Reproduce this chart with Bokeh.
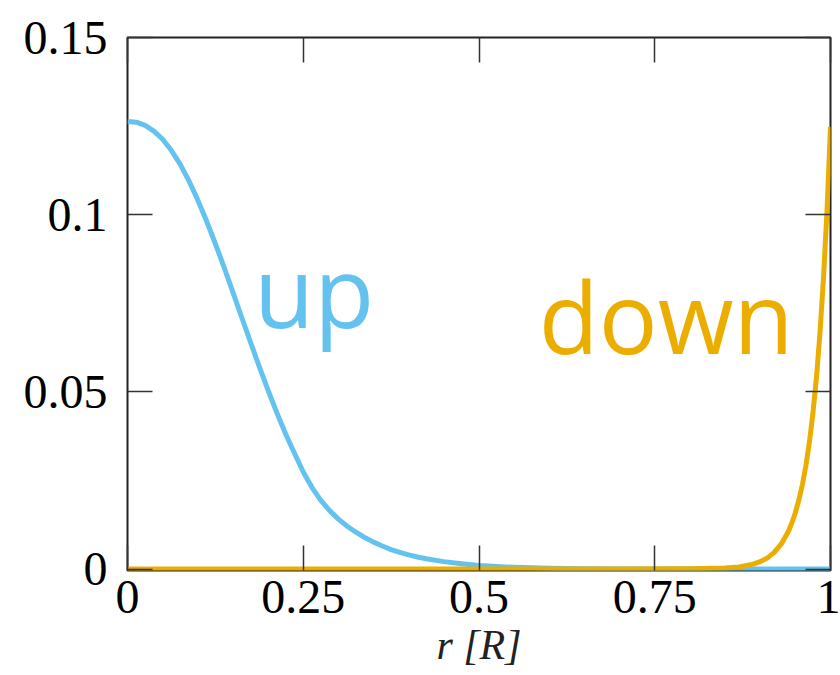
from bokeh.plotting import figure
from bokeh.models import Range1d, LinearAxis, Label, FixedTicker, CustomLabelingPolicy
from bokeh.embed import file_html
from bokeh.resources import INLINE

# ---- data ----
r_up = [0.0, 0.0125, 0.025, 0.0375, 0.05, 0.0625, 0.075, 0.0875, 0.10, 0.1125,
        0.125, 0.1375, 0.15, 0.1625, 0.175, 0.1875, 0.20, 0.2125, 0.225, 0.2375,
        0.25, 0.2625, 0.275, 0.2875, 0.30, 0.3125, 0.325, 0.3375, 0.35, 0.3625,
        0.375, 0.3875, 0.40, 0.4125, 0.425, 0.45, 0.475, 0.50, 0.525, 0.55,
        0.60, 0.65, 0.70, 0.80, 0.90, 1.0]
v_up = [0.1263, 0.1261, 0.1252, 0.1236, 0.1213, 0.1181, 0.1142, 0.1095, 0.1041, 0.0982,
        0.0918, 0.0851, 0.0781, 0.0710, 0.0640, 0.0571, 0.0504, 0.0441, 0.0381, 0.0327,
        0.0274, 0.0230, 0.0194, 0.0165, 0.0141, 0.0121, 0.0104, 0.0089, 0.0076, 0.0065,
        0.0055, 0.0047, 0.0040, 0.0034, 0.0029, 0.0021, 0.0015, 0.0010, 0.0007, 0.0005,
        0.0002, 0.0001, 0.0, 0.0, 0.0, 0.0]

r_down = [0.0, 0.5, 0.70, 0.80, 0.85, 0.87, 0.89, 0.90, 0.91, 0.92, 0.93, 0.94,
          0.945, 0.95, 0.955, 0.96, 0.965, 0.97, 0.975, 0.98, 0.985, 0.99, 0.995, 1.0]
v_down = [0.0, 0.0, 0.0, 0.0001, 0.0003, 0.0006, 0.0014, 0.0021, 0.0031, 0.0047, 0.0071, 0.0106,
          0.0130, 0.0159, 0.0195, 0.0238, 0.0292, 0.0358, 0.0440, 0.0540, 0.0665, 0.0820, 0.1010, 0.1248]

x_ticks = [0, 0.25, 0.5, 0.75, 1]
x_tick_labels = ["0", "0.25", "0.5", "0.75", "1"]
y_ticks = [0, 0.05, 0.1, 0.15]
y_tick_labels = ["0", "0.05", "0.1", "0.15"]

BLUE = "#63C3EE"
ORANGE = "#EBAE00"
SERIF = "Liberation Serif"

p = figure(width=840, height=675, output_backend="svg", toolbar_location=None,
           x_range=Range1d(0, 1), y_range=Range1d(-0.0004, 0.15),
           min_border_left=127, min_border_right=10, min_border_top=37,
           min_border_bottom=105)
p.background_fill_color = "white"
p.border_fill_color = "white"
p.outline_line_color = "#222222"
p.outline_line_width = 2
p.xgrid.visible = False
p.ygrid.visible = False

p.line(r_up, v_up, line_color=BLUE, line_width=5, line_join="round")
p.line(r_down, v_down, line_color=ORANGE, line_width=5, line_join="round")

no_labels = CustomLabelingPolicy(code="return new Set()")

def style(ax, ticks, labels, show):
    ax.ticker = FixedTicker(ticks=ticks)
    ax.major_tick_in = 25
    ax.major_tick_out = 0
    ax.major_tick_line_color = "#333333"
    ax.major_tick_line_width = 1.5
    ax.minor_tick_line_color = None
    ax.axis_line_color = None
    ax.major_label_text_font = SERIF
    ax.major_label_text_color = "black"
    if show:
        ax.major_label_overrides = {t: l for t, l in zip(ticks, labels)}
        ax.major_label_text_font_size = "48px"
    else:
        ax.major_label_policy = no_labels
        ax.major_label_text_font_size = "1px"
        ax.major_label_standoff = 0

xa = p.xaxis[0]
ya = p.yaxis[0]
style(xa, x_ticks, x_tick_labels, True)
style(ya, y_ticks, y_tick_labels, True)
xa.major_label_standoff = 10
ya.major_label_standoff = 20
xa.axis_label = "r [R]"
xa.axis_label_text_font = SERIF
xa.axis_label_text_font_style = "italic"
xa.axis_label_text_font_size = "42px"
xa.axis_label_text_color = "#222222"
xa.axis_label_standoff = 6

top = LinearAxis()
style(top, x_ticks, x_tick_labels, False)
p.add_layout(top, "above")
right = LinearAxis()
style(right, y_ticks, y_tick_labels, False)
p.add_layout(right, "right")

p.add_layout(Label(x=0.180, y=0.0788, text="up", text_font="Open Sans",
                   text_font_size="98px", text_color=BLUE, text_baseline="alphabetic"))
p.add_layout(Label(x=0.585, y=0.0715, text="down", text_font="Open Sans",
                   text_font_size="98px", text_color=ORANGE, text_baseline="alphabetic"))

open("out.html", "w").write(file_html(p, INLINE))
